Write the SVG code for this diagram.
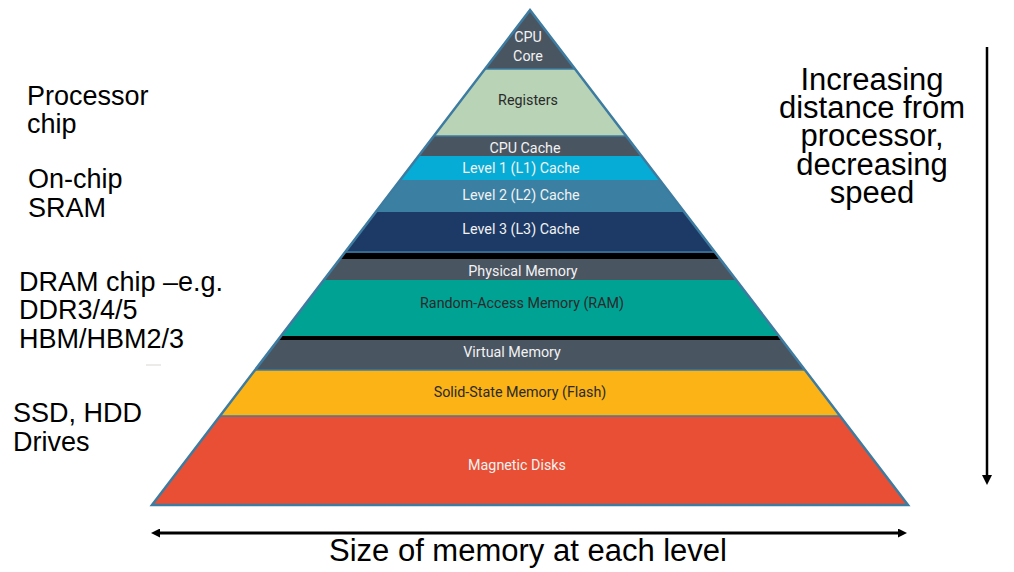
<svg xmlns="http://www.w3.org/2000/svg" width="1014" height="572" viewBox="0 0 1014 572">
<style>
.lbl{font-family:"Liberation Sans",Arial,sans-serif;fill:#000}
.side{font-size:27px}
.right{font-size:31px;text-anchor:middle}
.lay{font-family:Roboto,"Liberation Sans",sans-serif;font-size:14.3px;text-anchor:middle}
.w{fill:#f2f2f2}
.d{fill:#2a2a2a}
.sep{stroke:#3d7ca0;stroke-width:1.6}
</style>
<defs>
<clipPath id="pyr"><polygon points="530,10 908,505 152,505"/></clipPath>
<marker id="ah" viewBox="0 0 10 10" refX="0" refY="5" markerUnits="userSpaceOnUse" markerWidth="10" markerHeight="9" orient="auto-start-reverse"><path d="M0,0 L10,5 L0,10 z" fill="#000"/></marker>
<marker id="av" viewBox="0 0 10 10" refX="0" refY="5" markerUnits="userSpaceOnUse" markerWidth="12" markerHeight="10" orient="auto"><path d="M0,0 L10,5 L0,10 z" fill="#000"/></marker>
</defs>
<rect width="1014" height="572" fill="#fff"/>
<g clip-path="url(#pyr)">
<g id="cpu-core"><rect x="150" y="10" width="760" height="59" fill="#4a5562"/><text class="lay w" x="528" y="42">CPU</text><text class="lay w" x="528" y="61">Core</text></g>
<g id="registers"><rect x="150" y="69" width="760" height="67" fill="#b9d3b6"/><text class="lay d" x="528" y="105">Registers</text></g>
<g id="cpu-cache"><rect x="150" y="136" width="760" height="20" fill="#4a5562"/><text class="lay w" x="525" y="153">CPU Cache</text></g>
<g id="l1"><rect x="150" y="156" width="760" height="24" fill="#06acd6"/><text class="lay w" x="521" y="173">Level 1 (L1) Cache</text></g>
<g id="l2"><rect x="150" y="180" width="760" height="32" fill="#3b7fa3"/><text class="lay w" x="521" y="200">Level 2 (L2) Cache</text></g>
<g id="l3"><rect x="150" y="212" width="760" height="41" fill="#1d3a66"/><text class="lay w" x="521" y="234">Level 3 (L3) Cache</text></g>
<rect x="150" y="253" width="760" height="6" fill="#000"/>
<g id="physical"><rect x="150" y="259" width="760" height="21" fill="#4a5562"/><text class="lay w" x="523" y="276">Physical Memory</text></g>
<g id="ram"><rect x="150" y="280" width="760" height="57" fill="#00a294"/><text class="lay d" x="522" y="308">Random-Access Memory (RAM)</text></g>
<rect x="150" y="336" width="760" height="4" fill="#000"/>
<g id="virtual"><rect x="150" y="340" width="760" height="30" fill="#4a5562"/><text class="lay w" x="512" y="357">Virtual Memory</text></g>
<g id="flash"><rect x="150" y="370" width="760" height="46" fill="#fcb316"/><text class="lay d" x="520" y="397">Solid-State Memory (Flash)</text></g>
<g id="magnetic"><rect x="150" y="416" width="760" height="89" fill="#e94f34"/><text class="lay w" x="517" y="470">Magnetic Disks</text></g>
<line class="sep" x1="150" y1="69" x2="910" y2="69"/>
<line class="sep" x1="150" y1="136" x2="910" y2="136"/>
<line class="sep" x1="150" y1="252" x2="910" y2="252"/>
<line class="sep" x1="150" y1="370" x2="910" y2="370"/>
<line class="sep" x1="150" y1="416" x2="910" y2="416"/>
</g>
<polygon points="530,10 908,505 152,505" fill="none" stroke="#3d7ca0" stroke-width="2.5" stroke-linejoin="miter"/>
<g id="left-labels" class="lbl side">
<text x="27" y="105">Processor</text>
<text x="27" y="133">chip</text>
<text x="28" y="188">On-chip</text>
<text x="28" y="217">SRAM</text>
<text x="19" y="291">DRAM chip –e.g.</text>
<text x="19" y="319">DDR3/4/5</text>
<text x="19" y="348">HBM/HBM2/3</text>
<text x="13" y="422">SSD, HDD</text>
<text x="13" y="451">Drives</text>
</g>
<line x1="146" y1="365" x2="161" y2="365" stroke="#e6e4e0" stroke-width="1.5"/>
<g id="right-label">
<text class="lbl right" x="872" y="90">Increasing<tspan x="872" dy="28">distance from</tspan><tspan x="872" dy="28">processor,</tspan><tspan x="872" dy="29">decreasing</tspan><tspan x="872" dy="28">speed</tspan></text>
</g>
<g id="connectors">
<line x1="160" y1="533" x2="898" y2="533" stroke="#000" stroke-width="3" marker-start="url(#ah)" marker-end="url(#ah)"/>
<line x1="987" y1="47" x2="987" y2="475" stroke="#000" stroke-width="2.5" marker-end="url(#av)"/>
</g>
<text class="lbl" x="528" y="561" font-size="31" text-anchor="middle">Size of memory at each level</text>
</svg>
